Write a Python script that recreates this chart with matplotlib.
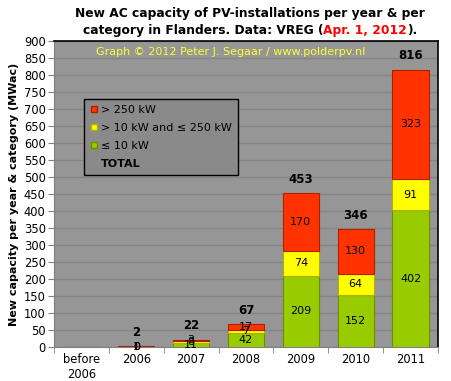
import matplotlib.pyplot as plt
from matplotlib.lines import Line2D
import numpy as np

years = ["before\n2006", "2006", "2007", "2008", "2009", "2010", "2011"]
small = [0, 0.4, 11, 42.4, 209, 152, 402]      # <= 10 kW
mid = [0, 0.4, 8, 7.3, 74, 64, 91]             # > 10 kW and <= 250 kW
large = [0, 1.2, 3, 17.3, 170, 130, 323]       # > 250 kW
totals = [None, 2, 22, 67, 453, 346, 816]

c_small = "#99cc00"
c_mid = "#ffff00"
c_large = "#ff3300"

fig = plt.figure(figsize=(4.51, 3.81), dpi=100)
fig.patch.set_facecolor("white")
ax = fig.add_axes([54/451, 1-347/381, 384/451, 306/381])
ax.set_facecolor("#969696")

x = np.arange(len(years))
w = 0.66
small = np.array(small)
mid = np.array(mid)
large = np.array(large)
ax.bar(x, small, w, color=c_small, edgecolor="#6f8f00", linewidth=0.8, zorder=3)
ax.bar(x, mid, w, bottom=small, color=c_mid, edgecolor="#b0b000", linewidth=0.8, zorder=3)
ax.bar(x, large, w, bottom=small+mid, color=c_large, edgecolor="#b02000", linewidth=0.8, zorder=3)

for i in range(1, len(years)):
    for vals, base in ((small, 0), (mid, small), (large, small+mid)):
        b = base if np.isscalar(base) else base[i]
        ax.text(x[i], b + vals[i]/2, "%d" % round(vals[i]), ha="center", va="center",
                fontsize=8, zorder=4)
    top = small[i] + mid[i] + large[i]
    ax.annotate(str(totals[i]), (x[i], top), xytext=(0, 10), textcoords="offset points",
                ha="center", va="center", fontsize=8.5, fontweight="bold", zorder=4)

ax.set_xlim(-0.5, len(years)-0.5)
ax.set_ylim(0, 900)
ax.set_yticks(range(0, 901, 50))
ax.set_xticks(x)
ax.set_xticklabels(years)
ax.set_xticks(np.arange(-0.5, len(years), 1), minor=True)
ax.tick_params(axis="x", which="major", length=0, labelsize=8.3, pad=4)
ax.tick_params(axis="x", which="minor", length=4, color="#808080")
ax.tick_params(axis="y", length=4, color="#808080", labelsize=8.3, pad=2)
ax.grid(axis="y", color="#858585", linewidth=1, zorder=0)
for s in ["top", "right"]:
    ax.spines[s].set_color("black")
    ax.spines[s].set_linewidth(1.2)
ax.spines["left"].set_color("#808080")
ax.spines["bottom"].set_color("#808080")

ax.set_ylabel("New capacity per year & category (MWac)", fontsize=8, fontweight="bold", labelpad=3)

ax.text(0.46, 0.965, "Graph © 2012 Peter J. Segaar / www.polderpv.nl", transform=ax.transAxes,
        ha="center", va="center", color="#ffff33", fontsize=8, zorder=5)

handles = [Line2D([], [], marker="s", ls="", color=c_large, markeredgecolor="#b02000", markersize=5),
           Line2D([], [], marker="s", ls="", color=c_mid, markeredgecolor="#b0b000", markersize=5),
           Line2D([], [], marker="s", ls="", color=c_small, markeredgecolor="#6f8f00", markersize=5),
           Line2D([], [], ls="", marker="")]
leg = ax.legend(handles, ["> 250 kW", "> 10 kW and ≤ 250 kW", "≤ 10 kW", "TOTAL"],
                loc="upper left", bbox_to_anchor=(0.064, 0.83), fontsize=8,
                handlelength=0.6, handletextpad=0.3, labelspacing=0.7,
                fancybox=False, framealpha=1, borderpad=0.6)
leg.get_frame().set_facecolor("#8a8a8a")
leg.get_frame().set_edgecolor("black")
leg.get_texts()[3].set_fontweight("bold")

fig.text(0.554, 0.965, "New AC capacity of PV-installations per year & per",
         ha="center", va="center", fontsize=8.8, fontweight="bold")
# second title line in three parts, the date in red
fig.canvas.draw()
r = fig.canvas.get_renderer()
parts = [("category in Flanders. Data: VREG (", "black"), ("Apr. 1, 2012", "red"), (").", "black")]
texts = [fig.text(0, 0.92, p, ha="left", va="center", fontsize=8.8, fontweight="bold", color=c)
         for p, c in parts]
widths = [t.get_window_extent(r).width for t in texts]
xpos = 0.554*451 - sum(widths)/2
for t, wd in zip(texts, widths):
    t.set_x(xpos/451)
    xpos += wd

fig.savefig("out.png", dpi=100)
